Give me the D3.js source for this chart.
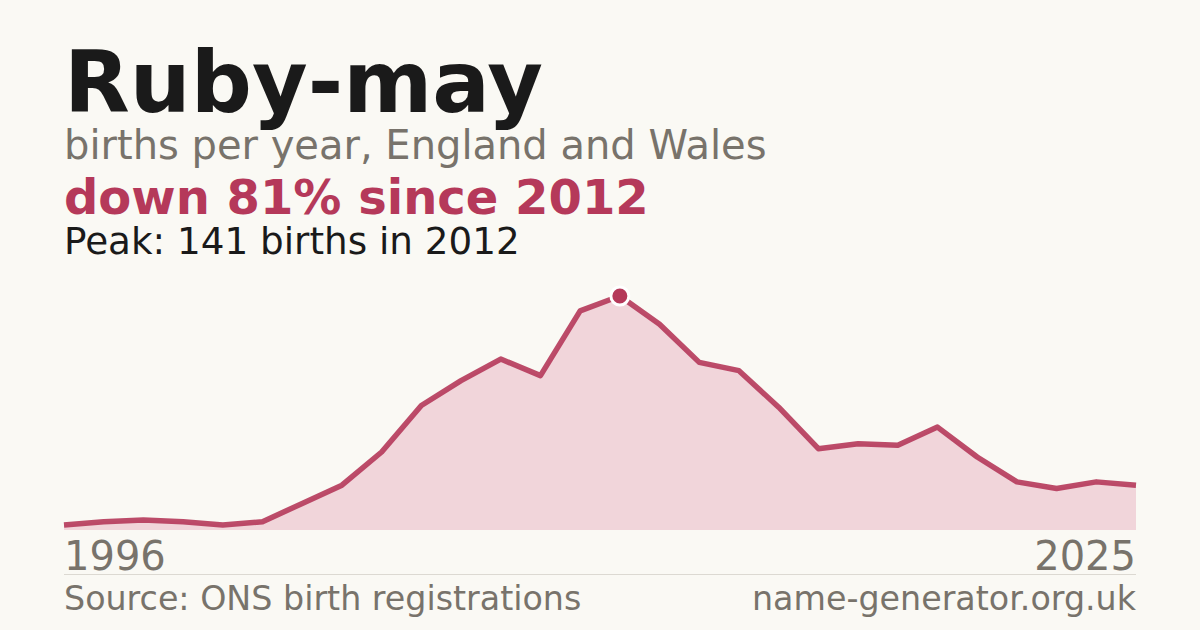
<!DOCTYPE html>
<html>
<head>
<meta charset="utf-8">
<script src="https://cdn.jsdelivr.net/npm/d3@7"></script>
<style>
  body { margin: 0; background: #faf9f4; }
  svg { display: block; font-family: "DejaVu Sans", sans-serif; }
</style>
</head>
<body>
<script>
// data (years with no published count are left out)
const years = [1996, 1997, 1998, 1999, 2000, 2003, 2004, 2005, 2006, 2007, 2008, 2009, 2010, 2011,
  2012, 2013, 2014, 2015, 2016, 2017, 2018, 2019, 2020, 2021, 2022, 2023, 2024, 2025];
const births = [3, 5, 6, 5, 3, 5, 16, 27, 47, 75, 90, 103, 93, 132,
  141, 124, 101, 96, 74, 49, 52, 51, 62, 44, 29, 25, 29, 27];
const axisLabels = ["1996", "2025"];

const width = 1200;
const height = 630;
const margin = { left: 64, right: 64 };
const red = "#b5395a";
const grey = "#78736b";

const data = years.map((y, i) => ({ year: y, value: births[i] }));

const svg = d3.select("body")
  .append("svg")
  .attr("width", width)
  .attr("height", height);

svg.append("rect")
  .attr("width", width)
  .attr("height", height)
  .attr("fill", "#faf9f4");

// header texts
svg.append("text")
  .attr("x", margin.left).attr("y", 112)
  .attr("font-size", 85.5).attr("font-weight", "bold")
  .attr("fill", "#1a1a1a")
  .text("Ruby-may");

svg.append("text")
  .attr("x", margin.left).attr("y", 159)
  .attr("font-size", 40)
  .attr("fill", grey)
  .text("births per year, England and Wales");

svg.append("text")
  .attr("x", margin.left).attr("y", 214)
  .attr("font-size", 48).attr("font-weight", "bold")
  .attr("fill", red)
  .text("down 81% since 2012");

svg.append("text")
  .attr("x", margin.left).attr("y", 254)
  .attr("font-size", 37.3)
  .attr("fill", "#1a1a1a")
  .text("Peak: 141 births in 2012");

// scales
const x = d3.scalePoint()
  .domain(years)
  .range([margin.left, width - margin.right]);

const y = d3.scaleLinear()
  .domain([0, d3.max(births)])
  .range([530, 296]);

const area = d3.area()
  .x(d => x(d.year))
  .y0(y(0))
  .y1(d => y(d.value));

const line = d3.line()
  .x(d => x(d.year))
  .y(d => y(d.value));

svg.append("path")
  .datum(data)
  .attr("d", area)
  .attr("fill", "#f1d5da");

svg.append("path")
  .datum(data)
  .attr("d", line)
  .attr("fill", "none")
  .attr("stroke", red)
  .attr("stroke-width", 5.5)
  .attr("stroke-linejoin", "round")
  .attr("opacity", 0.9);

// peak marker
const peak = data.find(d => d.value === d3.max(births));
svg.append("circle")
  .attr("cx", x(peak.year))
  .attr("cy", y(peak.value))
  .attr("r", 9)
  .attr("fill", red)
  .attr("stroke", "#ffffff")
  .attr("stroke-width", 3);

// end year labels
svg.append("text")
  .attr("x", x(years[0])).attr("y", 570)
  .attr("font-size", 40)
  .attr("fill", grey)
  .text(axisLabels[0]);

svg.append("text")
  .attr("x", x(years[years.length - 1])).attr("y", 570)
  .attr("text-anchor", "end")
  .attr("font-size", 40)
  .attr("fill", grey)
  .text(axisLabels[1]);

// divider and footer
svg.append("line")
  .attr("x1", margin.left).attr("x2", width - margin.right)
  .attr("y1", 574.5).attr("y2", 574.5)
  .attr("stroke", "#dcd9d2")
  .attr("stroke-width", 1);

svg.append("text")
  .attr("x", margin.left).attr("y", 610)
  .attr("font-size", 33.3)
  .attr("fill", grey)
  .text("Source: ONS birth registrations");

svg.append("text")
  .attr("x", width - margin.right).attr("y", 610)
  .attr("text-anchor", "end")
  .attr("font-size", 33.3)
  .attr("fill", grey)
  .text("name-generator.org.uk");
</script>
</body>
</html>
